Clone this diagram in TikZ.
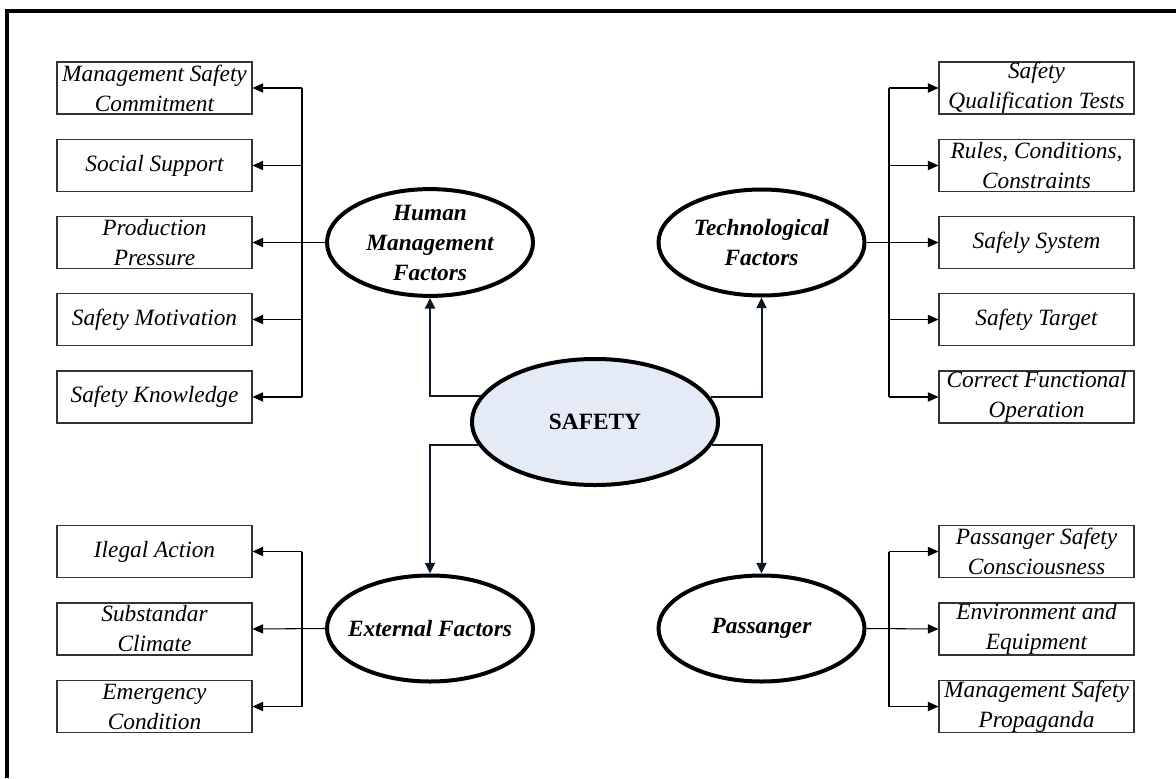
\documentclass[tikz,border=0pt]{standalone}
\usepackage{fontspec}
\setmainfont{Liberation Serif}
\usetikzlibrary{shapes.geometric,arrows.meta}
\definecolor{safefill}{HTML}{E4EBF6}
\definecolor{navy}{HTML}{0E1726}
\begin{document}
\begin{tikzpicture}[x=0.75pt,y=-0.75pt,
  box/.style={draw=black!80,line width=0.8pt,minimum width=146.25pt,minimum height=39pt,
    inner sep=0pt,align=center,font=\fontsize{17.5}{22.5}\selectfont\itshape},
  factor/.style={ellipse,draw=black,line width=3pt,minimum width=154.5pt,minimum height=79.5pt,
    inner sep=0pt,align=center,font=\fontsize{17.5}{22.5}\selectfont\bfseries\itshape},
  core/.style={ellipse,draw=black,fill=safefill,line width=3pt,minimum width=184.5pt,minimum height=94.5pt,
    inner sep=0pt,font=\fontsize{17.5}{22.5}\selectfont\bfseries},
  trunk/.style={draw=black,line width=0.8pt},
  arr/.style={draw=black,line width=0.8pt,-{Triangle[length=8pt,width=7pt]}},
  sarr/.style={draw=navy,line width=1.5pt,-{Triangle[length=8pt,width=7.5pt]}},
  frame/.style={draw=black,line width=2.4pt}]
\useasboundingbox (0,0) rectangle (1176,778);
\draw[frame] (7,778) -- (7,11) -- (1176,11);

% central node
\node[core] (safety) at (595,422) {SAFETY};

% factor ellipses
\node[factor] (human) at (430,242.5) {Human\\Management\\Factors};
\node[factor] (tech) at (761.5,242.5) {Technological\\Factors};
\node[factor] (ext) at (430,628.5) {\makebox[0pt]{External Factors}};
\node[factor] (pass) at (761.5,628.5) {Passanger};

% left top boxes
\node[box] (h1) at (154.5,88) {Management Safety\\Commitment};
\node[box] (h2) at (154.5,165.5) {Social Support};
\node[box] (h3) at (154.5,242.5) {Production\\Pressure};
\node[box] (h4) at (154.5,319.5) {Safety Motivation};
\node[box] (h5) at (154.5,397) {Safety Knowledge};

% right top boxes
\node[box] (t1) at (1036.5,88) {Safety\\Qualification Tests};
\node[box] (t2) at (1036.5,165.5) {Rules, Conditions,\\Constraints};
\node[box] (t3) at (1036.5,242.5) {Safely System};
\node[box] (t4) at (1036.5,319.5) {Safety Target};
\node[box] (t5) at (1036.5,397) {Correct Functional\\Operation};

% left bottom boxes
\node[box] (e1) at (154.5,551.5) {Ilegal Action};
\node[box] (e2) at (154.5,629) {Substandar\\Climate};
\node[box] (e3) at (154.5,706.5) {Emergency\\Condition};

% right bottom boxes
\node[box] (p1) at (1036.5,551.5) {Passanger Safety\\Consciousness};
\node[box] (p2) at (1036.5,629) {Environment and\\Equipment};
\node[box] (p3) at (1036.5,706.5) {Management Safety\\Propaganda};

% trunk coordinates
\coordinate (lx) at (302,0);
\coordinate (rx) at (889,0);

% human factors branches
\draw[trunk] (h1.east -| lx) -- (h5.east -| lx);
\draw[arr] (human.west) -- (h3.east);
\foreach \b in {h1,h2,h4,h5} \draw[arr] (\b.east -| lx) -- (\b.east);

% technological branches
\draw[trunk] (t1.west -| rx) -- (t5.west -| rx);
\draw[arr] (tech.east) -- (t3.west);
\foreach \b in {t1,t2,t4,t5} \draw[arr] (\b.west -| rx) -- (\b.west);

% external branches
\draw[trunk] (e1.east -| lx) -- (e3.east -| lx);
\draw[arr] (ext.west) -- (e2.east);
\foreach \b in {e1,e3} \draw[arr] (\b.east -| lx) -- (\b.east);

% passanger branches
\draw[trunk] (p1.west -| rx) -- (p3.west -| rx);
\draw[arr] (pass.east) -- (p2.west);
\foreach \b in {p1,p3} \draw[arr] (\b.west -| rx) -- (\b.west);

% safety connectors
\draw[sarr] (safety.167.5) -| (human.south);
\draw[sarr] (safety.12.5) -| (tech.south);
\draw[sarr] (safety.-169) -| (ext.north);
\draw[sarr] (safety.-11) -| (pass.north);
\end{tikzpicture}
\end{document}
